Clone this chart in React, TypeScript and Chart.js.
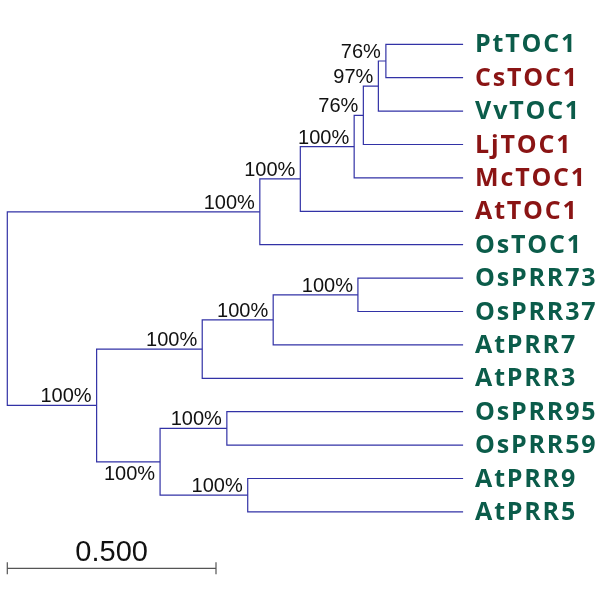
import React, { useEffect, useRef } from "react";
import { Chart, registerables } from "chart.js";

Chart.register(...registerables);

// ---- data ----
const leafNames = [
  "PtTOC1", "CsTOC1", "VvTOC1", "LjTOC1", "McTOC1", "AtTOC1", "OsTOC1",
  "OsPRR73", "OsPRR37", "AtPRR7", "AtPRR3", "OsPRR95", "OsPRR59", "AtPRR9", "AtPRR5",
];
const leafGroups = [
  "g", "r", "g", "r", "r", "r", "g",
  "g", "g", "g", "g", "g", "g", "g", "g",
];
const leafDepth = 1.092;

const nodeIds = ["root", "toc", "toc2", "toc3", "toc4", "toc5", "toc6", "prr", "prr7", "prr73", "prr7337", "prr59", "prr9559", "prr95"];
const nodeChildren = [
  ["toc", "prr"],
  ["toc2", "OsTOC1"],
  ["toc3", "AtTOC1"],
  ["toc4", "McTOC1"],
  ["toc5", "LjTOC1"],
  ["toc6", "VvTOC1"],
  ["PtTOC1", "CsTOC1"],
  ["prr7", "prr59"],
  ["prr73", "AtPRR3"],
  ["prr7337", "AtPRR7"],
  ["OsPRR73", "OsPRR37"],
  ["prr9559", "prr95"],
  ["OsPRR95", "OsPRR59"],
  ["AtPRR9", "AtPRR5"],
];
const nodeDepths = [0, 0.605, 0.702, 0.831, 0.853, 0.889, 0.907, 0.214, 0.467, 0.637, 0.840, 0.366, 0.526, 0.576];
const nodeSupport = [null, "100%", "100%", "100%", "76%", "97%", "76%", "100%", "100%", "100%", "100%", "100%", "100%", "100%"];
const supportBelow = ["prr59"];

const scaleBarValue = 0.5;
const scaleBarLabel = "0.500";

// ---- layout helpers ----
const colors: Record<string, string> = { g: "#0b5c4a", r: "#8a1414" };
const lineColor = "#3232a6";

function buildTree() {
  const pos: Record<string, { x: number; y: number }> = {};
  leafNames.forEach((n, i) => (pos[n] = { x: leafDepth, y: i }));
  const resolve = (id: string): { x: number; y: number } => {
    if (pos[id]) return pos[id];
    const k = nodeIds.indexOf(id);
    const ys = nodeChildren[k].map((c) => resolve(c).y);
    pos[id] = { x: nodeDepths[k], y: (ys[0] + ys[ys.length - 1]) / 2 };
    return pos[id];
  };
  nodeIds.forEach((id) => resolve(id));
  return pos;
}

export default function App() {
  const ref = useRef<HTMLCanvasElement>(null);
  useEffect(() => {
    const pos = buildTree();
    const datasets: any[] = nodeIds.map((id, k) => {
      const [a, b] = nodeChildren[k];
      const pa = pos[a], pb = pos[b], p = pos[id];
      return {
        type: "line",
        data: [
          { x: pa.x, y: pa.y },
          { x: p.x, y: pa.y },
          { x: p.x, y: pb.y },
          { x: pb.x, y: pb.y },
        ],
        borderColor: lineColor,
        borderWidth: 1.2,
        pointRadius: 0,
        fill: false,
        tension: 0,
      };
    });
    const barY = 15.69;
    datasets.push({
      type: "line",
      data: [
        { x: 0, y: barY },
        { x: scaleBarValue, y: barY },
      ],
      borderColor: "#555555",
      borderWidth: 1.2,
      pointRadius: 0,
    });

    const labelPlugin = {
      id: "treeLabels",
      afterDatasetsDraw(chart: any) {
        const ctx = chart.ctx;
        const xs = chart.scales.x, ys = chart.scales.y;
        ctx.save();
        // leaf labels
        ctx.font = "bold 25px 'Open Sans'";
        ctx.textAlign = "left";
        ctx.textBaseline = "middle";
        try { (ctx as any).letterSpacing = "1.8px"; } catch (e) {}
        leafNames.forEach((n, i) => {
          ctx.fillStyle = colors[leafGroups[i]];
          ctx.fillText(n, xs.getPixelForValue(leafDepth) + 12, ys.getPixelForValue(i) + 1);
        });
        try { (ctx as any).letterSpacing = "0px"; } catch (e) {}
        // support labels
        ctx.font = "20px 'Liberation Sans'";
        ctx.fillStyle = "#111111";
        ctx.textAlign = "right";
        nodeIds.forEach((id, k) => {
          const s = nodeSupport[k];
          if (!s) return;
          const p = pos[id];
          const px = xs.getPixelForValue(p.x) - 5;
          const py = ys.getPixelForValue(p.y);
          if (supportBelow.includes(id)) {
            ctx.textBaseline = "top";
            ctx.fillText(s, px, py + 3);
          } else {
            ctx.textBaseline = "alphabetic";
            ctx.fillText(s, px, py - 3);
          }
        });
        // scale bar ticks + label
        const x0 = xs.getPixelForValue(0), x1 = xs.getPixelForValue(scaleBarValue);
        const yb = ys.getPixelForValue(barY);
        ctx.strokeStyle = "#555555";
        ctx.lineWidth = 1.2;
        ctx.beginPath();
        ctx.moveTo(x0, yb - 6); ctx.lineTo(x0, yb + 6);
        ctx.moveTo(x1, yb - 6); ctx.lineTo(x1, yb + 6);
        ctx.stroke();
        ctx.font = "29px 'Liberation Sans'";
        ctx.fillStyle = "#111111";
        ctx.textAlign = "center";
        ctx.textBaseline = "alphabetic";
        ctx.fillText(scaleBarLabel, (x0 + x1) / 2, yb - 7);
        ctx.restore();
      },
    };

    const pxPerUnit = 417.4;
    const chart = new Chart(ref.current!, {
      type: "scatter",
      data: { datasets },
      options: {
        animation: false,
        responsive: false,
        maintainAspectRatio: false,
        layout: { padding: 0 },
        plugins: { legend: { display: false }, tooltip: { enabled: false } },
        scales: {
          x: { type: "linear", display: false, min: -7.3 / pxPerUnit, max: (600 - 7.3) / pxPerUnit },
          y: { type: "linear", display: false, reverse: true, min: -44.3 / 33.4, max: (612 - 44.3) / 33.4 },
        },
      },
      plugins: [labelPlugin],
    });
    return () => chart.destroy();
  }, []);
  return (
    <div style={{ position: "fixed", left: 0, top: 0, width: 600, height: 612, background: "#fff" }}>
      <canvas ref={ref} width={600} height={612} style={{ width: 600, height: 612 }} />
    </div>
  );
}
